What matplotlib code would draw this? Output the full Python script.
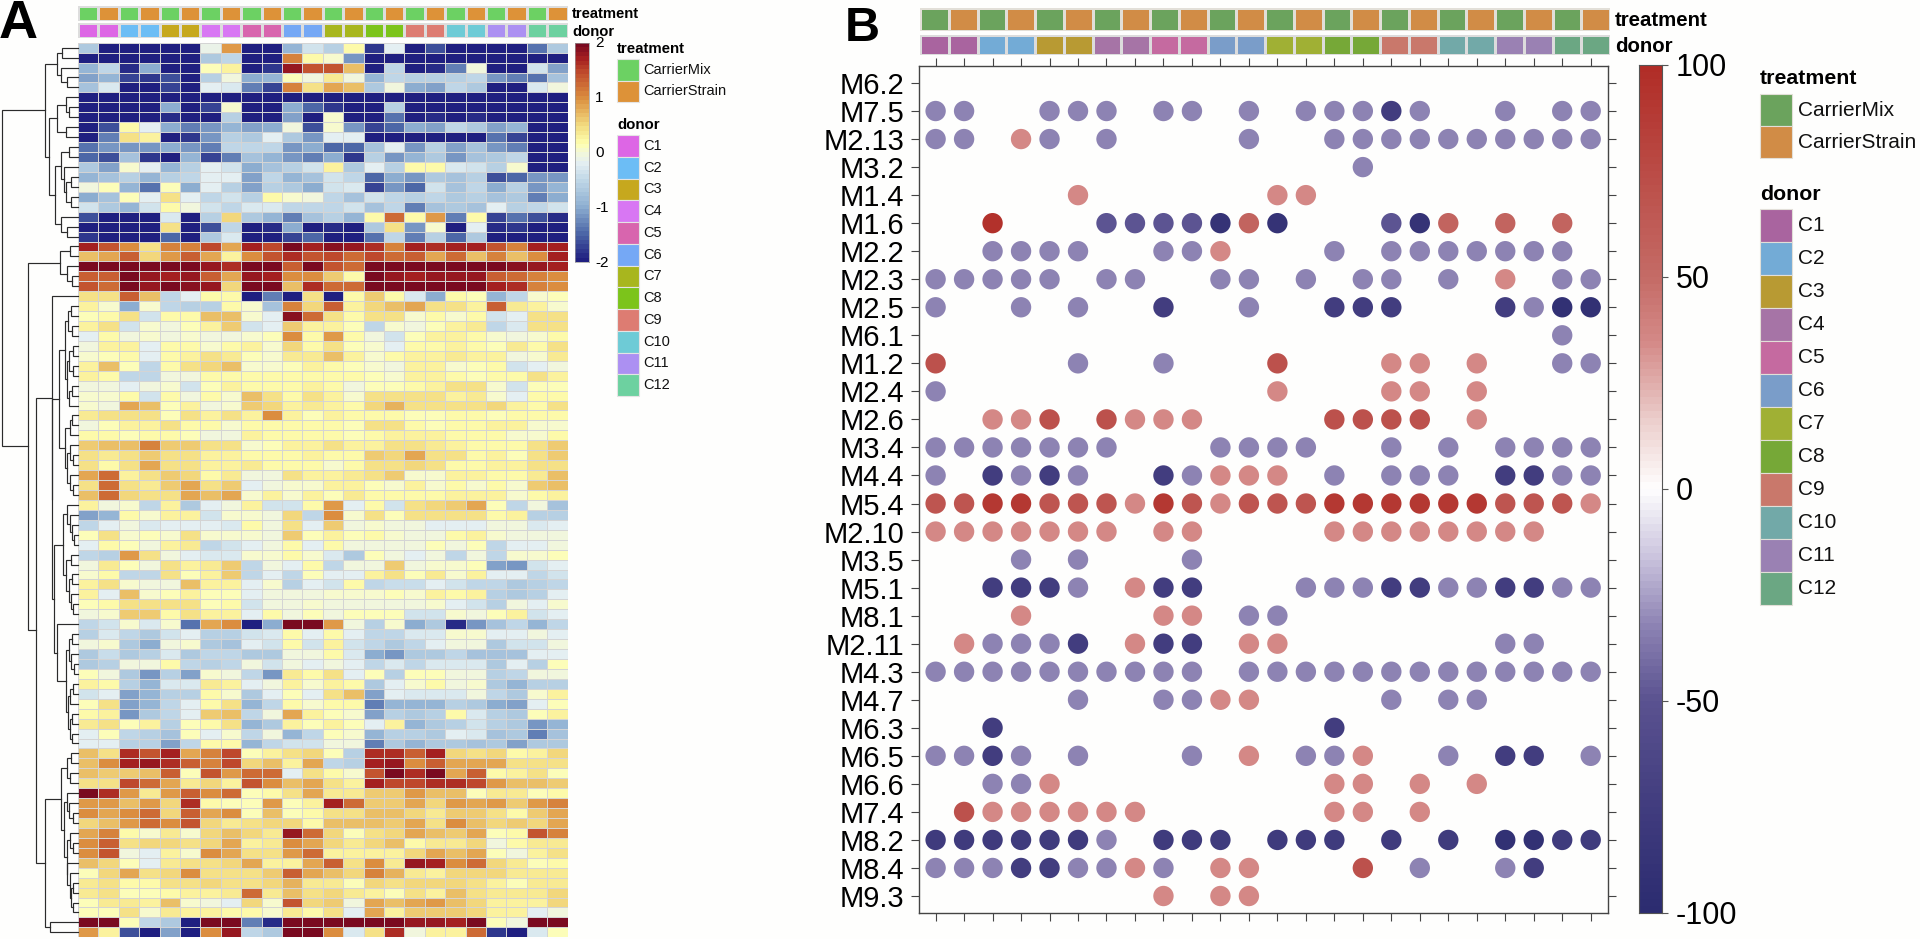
import matplotlib
matplotlib.use("Agg")
import matplotlib.pyplot as plt
import numpy as np
from matplotlib.colors import LinearSegmentedColormap, ListedColormap, Normalize
from matplotlib.patches import Rectangle

plt.rcParams['font.family'] = ['Liberation Sans', 'DejaVu Sans']

W, H = 1920, 939

treatment_names = ["CarrierMix", "CarrierStrain"]
donor_names = ["C1", "C2", "C3", "C4", "C5", "C6", "C7", "C8", "C9", "C10", "C11", "C12"]
sample_treatment = [0, 1] * 12
sample_donor = [d for d in range(12) for _ in (0, 1)]

colors_treat_a = ["#6cd163", "#dd9238"]
colors_donor_a = ["#dd66e5", "#6cbdf5", "#c6a81e", "#d877f3", "#d865ae", "#75a8f5",
                  "#a8b61e", "#7cc41b", "#dd7c72", "#6ecbd6", "#ac90f2", "#6dd1a0"]
colors_treat_b = ["#6ba35d", "#d18c46"]
colors_donor_b = ["#a9649f", "#73abd6", "#b89a33", "#a674a6", "#c56aa0", "#7a9dc9",
                  "#a0b034", "#76a837", "#c9786b", "#72a9a8", "#9a81b3", "#6ba783"]

heat_values = [
 [-.7,-2,-2,-2,-2,-2,-.1,.9,-2,-2,-.9,-.4,-.6,.2,-1.8,-.2,-2,-1.6,-2,-2,-2,-2,-1.4,-.7],
 [-2,-2,-2,-2,-2,-2,-.7,-.5,-2,-2,1.1,.2,.05,-1.2,-2,-2,-2,-2,-2,-2,-2,-2,-2,-2],
 [-.9,-.5,-1.9,-1,-2,-2,.15,.3,-2,-1.8,1.8,1.4,1.4,.7,-2,-.5,-2,-1.9,-1.3,-.05,-2,-2,-.4,-1.1],
 [-1.1,-.9,-1.7,-1.8,-1.6,-2,-.6,-.05,-1,-.9,.15,-.05,.35,-.05,-.9,-.5,-.6,-.6,-.6,-.5,-1.2,-1.3,-1.4,-.8],
 [-.8,-.3,-2,-2,-1.7,-2,-.2,-.3,-1.3,-1.7,1.1,.4,.8,.7,-.7,-.05,-1,-1.1,-.5,-.7,-2,-2,-.3,-.05],
 [-2,-2,-2,-2,-2,-2,-2,-2,-2,-2,-2,-2,-2,-2,-2,-2,-2,-2,-2,-2,-2,-2,-2,-2],
 [-2,-2,-2,-2,-1,-2,-1.7,.05,-2,-2,-1,-1.5,-1.8,-2,-2,-.6,-2,-2,-2,-2,-2,-2,-2,-2],
 [-2,-2,-2,-2,-1.9,-2,-2,-.6,-2,-2,-1.1,-2,.05,-2,-2,-1.4,-2,-1.9,-2,-1.9,-2,-2,-2,-2],
 [-2,-1.6,.2,-.2,-1,-1.3,-1.2,-.9,-1.1,-1,-.05,-1.6,0,-1.2,-1.7,-1.5,-1,-1.1,-.5,-.7,-1.1,-.9,-2,-2],
 [-2,-1.3,.4,.25,-2,-1.8,-1.2,-.6,-.7,-.2,-.7,-1.2,-.2,-.2,-2,-2,-2,-2,-2,-2,-1.4,-1.7,-2,-2],
 [-1.4,-1.2,-1.2,-1.2,-1,-1.2,-1.3,-.5,-.5,-.5,-1.2,-1,-1.5,-1.5,-.8,-.2,-1.2,-.6,-1.1,-.8,-1.2,-1.3,-2,-2],
 [-1.5,-1.6,-.8,-1.8,-2,-.9,-1.7,-1.3,-.8,-.9,-1.2,-1.3,-1,-1.8,-.6,-1.2,-.9,-.7,-1.2,-.8,-.7,-.5,-2,-2],
 [-.7,-1.1,0,-.2,-.9,-.6,-.2,-.4,-1,-.8,-.6,-.4,.3,-.7,-.2,-.6,.2,.2,-.3,-.4,-.6,0,-2,-2],
 [-.9,-.8,-.6,-.9,-.6,-.5,-.2,-.2,-1.1,-.5,-.9,-.8,-.4,-.5,-1.5,-1,-1.2,-.7,-.8,-.6,-1.6,-1.5,-1.2,-1.2],
 [-.05,.1,-.9,-1.4,.15,-1,-.2,-.6,-1.1,-.6,-.7,-1,-.4,-.3,-1.7,-1.2,-1.5,-.4,-.8,-.5,-1,-.6,-1.2,-.9],
 [-1,-.8,.1,-.2,.4,-.2,-.5,-.4,-.6,.2,0,-.05,-.5,-.8,-.4,-.5,-.6,-.5,-.7,-.6,-.8,-.7,-1.3,-1],
 [-.4,-.7,-.9,-.4,.2,-.05,-.4,-.5,-.3,-.3,-.5,-.5,-.5,-.4,-.8,-.5,-1.3,-.8,-.7,-.8,-.2,-.6,-.5,-.4],
 [-1.6,-2,-2,-2,-.3,-2,-.6,.5,-.7,-.9,-1.3,-.8,-.6,-.9,.2,1.2,.2,.9,-1.3,.2,-1.7,-1.4,-1.6,-1.9],
 [-2,-2,-2,-2,.4,-2,-1.6,-.5,-2,-1.9,-1,-2,-1.9,-2,-.7,.4,-1.2,0,-2,-.2,-1.9,-1.8,-2,-2],
 [-1.8,-2,-2,-2,-1.5,-2,-.7,-.3,-2,-2,-1.7,-1.5,-2,-2,-1.4,-.5,-1.3,-.6,-1.5,-.7,-2,-2,-2,-2],
 [1.7,1.4,1,.4,1.1,1.1,1.5,.8,1.75,1.5,2,1.7,1.85,1.8,1.6,1.1,1.7,1.6,1.75,1.7,1.4,1.1,1.75,1.75],
 [.7,.8,1.3,.5,.9,1.3,.8,.3,1,1.4,1.6,1.4,1.5,1.2,1.5,1.2,1.3,.8,1.2,.7,1.1,.7,1,1.7],
 [2,2,2,2,2,2,1.8,1.6,2,2,1.3,2,1.4,1.2,2,2,2,2,2,2,2,1.9,1.8,1.7],
 [1.3,1.3,2,1.8,1.7,1.8,1.3,.8,1.8,1.7,1,1,.6,.2,2,1.8,1.7,1.8,1.8,1.8,1.3,1.2,1.1,1],
 [1.4,1.2,2,1.8,2,1.9,1.8,.5,2,2,.7,1.6,1.2,1.2,2,2,2,2,2,2,1.7,1.6,1.1,1],
 [.4,.4,1.3,.7,-.5,-.2,.2,.2,-2,-1.3,-2,.4,-2,.2,.6,.2,-.3,-1,.2,.1,-.9,-.5,0,.15],
 [.3,0,-1,0,-.5,-.6,-.6,.2,0,-.8,1.1,.5,1.3,.3,.5,.7,.8,.4,.4,.3,1.3,.35,.3,.05],
 [.1,.2,.4,-.4,.2,.2,.7,.7,.05,-.2,1.9,1.2,.4,.2,.4,.4,0,.2,0,.2,-.4,-.2,.4,.4],
 [.25,.45,-.35,0,-.05,.1,.3,.6,-.35,-.2,.6,.3,.3,.1,-.5,0,-.05,.1,.3,.35,-.5,-.3,.4,.4],
 [-.2,.2,-.05,0,-.05,.05,-.05,-.05,0,.1,1,.2,.9,.2,-.05,-.4,.1,.25,.25,.2,.05,-.05,.05,.2],
 [-.05,.25,.25,-.2,.2,.2,.05,.2,.25,0,.5,.2,.4,.15,.05,-.2,.2,.2,.3,.2,.15,.35,.2,.4],
 [0,.1,.2,-.2,.2,.25,.4,.35,.1,.05,.35,.35,.7,.3,0,.2,.3,.25,.35,.3,.25,-.05,.05,.35],
 [.3,.7,.1,-.5,.2,.4,.55,.7,0,0,.15,.3,.2,.1,.05,-.05,.25,.3,.05,.1,.2,-.4,-.2,-.05],
 [.25,.2,-.5,-.5,-.05,-.05,.2,.2,.2,.2,.2,.2,.2,.2,.1,.05,.25,.3,.2,.1,.2,.2,.45,.3],
 [-.05,-.05,-.2,-.05,.05,-.4,.1,.25,.2,.2,.2,.25,.2,-.05,.1,.1,.2,.25,.4,.4,0,-.4,.1,.15],
 [0,.05,.2,-.4,.2,-.05,.2,.05,.7,.4,.2,.4,.3,0,.4,.4,.4,.4,.3,.35,.05,-.2,.2,.2],
 [0,-.05,.8,.7,.1,.3,-.05,0,.6,.5,.3,.35,.25,.2,.5,.75,.4,.4,.4,.45,.5,.3,.2,.45],
 [.35,.4,.4,.45,.1,.4,.3,.45,.25,1,.3,.1,.3,.2,.2,.2,.1,.1,.2,.2,.1,.2,.2,.2],
 [-.05,.1,.3,.3,.4,.2,.2,0,.2,.2,.2,.2,.2,.1,.4,.4,.2,.1,.2,.2,.3,.3,0,.05],
 [.2,.2,.1,.2,.2,.1,-.05,-.05,.25,.2,.2,.2,.2,.1,.2,.3,.3,.3,.2,.2,.2,0,0,.2],
 [.6,.7,.7,1.1,.6,.6,.4,.4,0,.1,.3,.3,.4,.3,.3,.45,.4,.35,.3,.2,.2,.2,.45,.6],
 [.4,.35,.45,.6,.4,.4,.3,.3,.2,.2,.2,.3,.2,.2,.6,.5,.85,.45,.45,.2,.3,.1,.4,.6],
 [.4,.2,.45,.8,.45,.45,.25,.25,.35,.2,.2,.2,0,.2,.45,.45,.5,.4,.2,.2,.3,.3,.4,.45],
 [.8,1.2,.25,.4,.6,.5,.2,.35,-.05,-.05,.4,.3,.3,.35,.4,.6,.05,0,.3,.3,.2,.2,.35,.7],
 [.4,1.2,.4,.35,.6,.8,.45,.6,-.2,-.05,0,.05,.3,.3,.1,0,.25,0,.2,0,.2,.05,.6,.7],
 [.7,1.2,.5,.45,.45,.8,.7,.8,0,.25,0,.25,.15,.35,.2,.2,.2,.2,.3,.3,.25,0,.2,.3],
 [.3,-.05,0,-.5,.3,-.7,-.2,-.05,.3,-.4,-.4,.2,.9,-.2,.2,-.4,.4,.5,.6,.8,.1,-.5,-.05,-.8],
 [-1.1,-.9,.2,0,.25,.25,-.4,0,0,-.05,.5,-.5,1,.05,.4,.1,.4,.45,.45,.4,.2,.3,-.6,-.6],
 [-.5,-.2,-.05,-.3,-.2,-.2,-.2,-.3,.2,-.05,.45,-.2,.6,-.05,.05,-.05,-.05,-.2,-.2,-.2,-.05,-.05,-.3,-.2],
 [.1,.4,0,.1,.05,.4,0,0,0,-.05,.6,.1,.25,.1,.2,0,-.05,-.05,.2,.3,0,-.05,-.05,-.05],
 [-.2,.2,.1,-.05,.3,.35,-.5,-.35,-.2,-.05,.2,-.2,.2,-.05,-.05,-.05,-.05,.15,-.05,.1,-.5,-.2,-.2,-.05],
 [-.5,-.6,.9,.4,-.05,-.2,-.3,-.3,.05,.05,.2,0,-.3,-.7,.1,-.05,-.2,-.05,-.5,-.05,-.5,0,.05,.1],
 [-.05,.35,.1,-.05,.45,.25,.35,.6,-.5,-.05,-.2,.2,-.5,-.05,-.05,.6,-.05,0,0,.1,-1.1,-1.2,-.4,-.2],
 [0,.2,-.5,-.5,.45,.1,.3,.6,-.5,-.2,-.5,.1,-.2,-.2,.25,.45,.1,.35,0,.25,-.2,-.2,-.5,-.4],
 [.25,.4,0,-.05,-.05,.7,.25,.3,-.2,0,-.6,-.2,-.4,.2,-.5,-.45,-.45,-.2,-.4,-.5,-.5,-.7,-.6,-.5],
 [.25,-.2,.65,0,.15,.25,.15,.1,-.2,-.05,-.05,-.05,.05,0,.05,.15,0,.25,.2,.25,-.6,-.7,-.6,-.2],
 [.1,.2,.45,.45,.4,.4,.1,.2,-.4,-.05,-.05,0,-.05,-.05,-.05,-.05,-.05,.05,-.2,-.4,-.6,-.05,-.2,.05],
 [-.05,0,.6,.6,.2,.4,.3,.3,-.2,.2,-.05,.1,-.05,.1,.1,.15,-.4,-.4,.05,-.05,.1,.3,-.4,-.2],
 [-.5,-.35,.05,-.3,.05,-1.4,.8,1,-2,-1,2,2,.9,-.05,-.6,.05,-1,-.7,-1.9,-1.2,-.8,-.5,-.9,-.5],
 [-.6,-.3,-.5,-.7,-.4,-.2,-.6,-.6,-.4,-.3,.2,-.2,.2,-.2,-.5,-.5,-.3,-.3,.05,0,-.2,-.2,-.05,-.2],
 [-.05,0,-.7,-1,-.05,.05,-.7,-.8,-.2,-.4,.2,-.4,.3,-.4,-.5,-.7,-.5,-.2,-.05,-.05,-.7,-.4,-.4,-.05],
 [-.7,-.45,-.7,-.6,-.3,-.7,-.5,-.5,-.7,-.7,-.05,-.05,.2,-.3,-1,-1.2,-.7,-.7,-.5,-.8,-.8,-.8,-.2,-.2],
 [-.7,-.6,-.05,-.05,.2,-.5,-.6,-.5,-.05,-.4,-.05,-.2,-.05,-.2,-.5,-.3,-.5,-.3,-.3,-.3,-.7,-.2,-.6,.1],
 [.1,-.05,-.7,-1.2,-.6,-1.1,0,-.05,-.5,-1.2,.35,.2,.4,-.2,.1,-.6,.1,.1,-.05,-.05,-.6,-.5,-.05,-.05],
 [.3,.2,-.6,-.9,-.3,-.3,.35,.3,-.2,-.05,.25,.05,.3,.2,-.7,-.2,0,.2,-.05,.05,-.7,-.9,-.6,-.6],
 [-.4,-.2,-1.1,-.9,-.6,-.6,.2,0,-.7,-.2,.1,-.2,.4,.7,-1.1,-.2,-.3,-.3,-.3,-.05,-.5,-.7,0,.3],
 [.1,.4,-1.1,-.9,-.5,-.2,.2,.4,-.9,-.5,.2,0,.2,.2,-1.3,-.9,-.9,-.9,-.6,-.7,-1,-1.1,-.2,.1],
 [.2,.3,-1.2,-.7,-.5,-.2,.6,.7,-.5,-.05,.8,.25,.1,.05,-1.1,-.6,-.7,-.6,.2,-.3,-.6,-.7,.1,.25],
 [.35,.4,.1,.25,-.6,.1,.2,.45,-.9,-.7,.25,.1,.25,.15,-.2,.25,-.9,-.7,-.6,-.4,-.6,-.7,-1.2,-.9],
 [-.2,.1,-.5,-.6,-.8,.1,-.2,0,-.5,-.05,-.9,-.5,.1,0,-.9,-.6,-.6,-.7,-.2,-.3,-.8,-.7,-1.3,-.8],
 [-.2,-.2,-.6,-.6,-1.1,-.5,.2,.2,-.9,-.5,-.4,-.4,-.05,-.05,-1.3,-.7,-.9,-.7,-.7,-.8,-.7,-1.1,-.7,-.7],
 [.7,.4,1.6,1.4,1.7,.8,1.1,1.5,.15,.3,.4,.5,.1,-.6,1.6,1.6,1.3,1.7,.5,.4,.5,.2,.3,.5],
 [.7,1,1.7,1.8,1.6,1.3,1.1,1.5,.5,.7,.3,.8,-.5,-.6,1.7,1.8,1,1.3,.8,.8,.8,.4,.4,.4],
 [.7,.6,.6,.7,1.3,.1,1.4,.9,1.2,1.2,-.2,.4,.2,0,1.4,2,1.6,2,.8,1.3,.2,.3,.4,.15],
 [.4,.4,1.5,1.2,.8,.35,.5,.3,1.4,1,.7,.8,.4,.3,1.7,1.5,1.5,1.6,1.6,1.5,.9,.7,.7,.6],
 [2,1.6,.9,.35,.9,1.3,1,1.2,.15,.2,.4,.8,.35,.35,.6,.6,.9,.7,.7,.15,.35,.35,.15,.2],
 [.9,.9,.7,.9,.5,1.6,.2,.15,.15,.9,.15,.3,1.7,1.2,.6,.6,.8,.5,.9,.8,.9,.6,.9,1.1],
 [1,.8,1,1.2,.5,1.3,.8,1,.15,.7,.15,.2,.4,.4,.65,.7,.5,.35,.6,.6,.4,.2,.6,.8],
 [.5,.7,.9,1.2,1,1.4,.55,.35,.4,.5,.5,.2,.7,.7,.7,.6,.8,.4,1,.65,.5,.6,.5,.8],
 [.8,1.1,.2,0,.35,.05,.55,.7,.5,.35,1.8,1.2,.5,.1,.4,.55,.8,.7,.6,.8,.15,.2,1.4,1.1],
 [1,1.3,.4,.5,.5,.4,.5,.8,.3,.35,1,.85,.5,.35,.5,.7,.2,.35,.35,.5,-.05,.2,.35,.35],
 [1,1.4,-.05,-.2,.3,.05,1,.8,.4,.4,.9,1.2,.25,.3,.3,.3,.5,.85,.7,.8,.1,-.05,.3,.4],
 [.65,.5,.15,-.2,.35,.4,.4,.5,.85,.25,.3,.8,1.3,.4,1,.35,1.8,1.7,1,1.2,.5,.35,.15,.2],
 [.15,.55,.8,.4,.5,1,.4,.4,.4,.6,1.3,.85,.7,.5,1.05,.75,.35,.25,.5,.5,.55,.35,.35,.35],
 [.35,.4,.2,.2,.4,.4,.55,.45,.4,.5,.75,.35,.35,.15,.5,.4,.5,.5,.5,.4,.25,.15,.35,.35],
 [.35,.45,.15,.1,.2,.25,.3,.35,1.2,.35,.7,.4,.5,.35,.3,.15,.4,.3,.7,.4,.35,.35,.35,.5],
 [.15,.35,.35,.25,.65,.05,-.05,-.2,.55,0,1.4,.5,.6,-.05,.85,.65,.85,.9,.7,.5,.3,.25,.3,.5],
 [.15,.15,.4,0,.35,.25,.25,.2,.2,.05,.35,.2,.4,-.2,.8,.3,.6,.6,.6,.5,.25,.25,-.2,-.05],
 [2,2,.15,-.5,-.7,-2,2,2,-1.3,-1.9,2,2,2,2,2,2,1.8,1.8,1.7,2,.1,-.05,2,2],
 [.9,.3,-1.6,-2,-1.1,-2,1,1.8,-.5,-.7,2,2,1,-.3,.4,1.6,-.05,.3,.3,1.2,-1.8,-2,-.3,.1],
]

# Dendrogram merges: (height, left, right); 0 stands for the next leaf row.
t_top = (86,
         (54, (42, 0, 0), (44, 0, (29, 0, 0))),
         (77,
          (54, (32, 0, (24, 0, 0)), (32, 0, 0)),
          (61,
           (44, (24, 0, 0), (36, 0, (32, (19, 0, 0), (19, 0, 0)))),
           (44, 0, (29, 0, 0)))))
t_red = (46, (21, 0, 0), (29, 0, (17, 0, 0)))
t_f1 = (34, (26, (18, 0, 0), (16, 0, 0)),
        (28, (24, (14, 0, 0), (14, 0, 0)), (24, (16, 0, 0), 0)))
t_f2 = (33, (22, (15, 0, 0), 0),
        (28, (20, 0, (12, 0, 0)), (20, 0, (12, 0, 0))))
t_g = (39, (28, 0, (22, 0, (16, 0, (10, 0, 0)))),
       (32, (18, 0, 0), (24, (16, 0, 0), (18, 0, (12, 0, 0)))))
t_h = (32, (24, (16, 0, 0), (18, 0, (10, 0, 0))),
       (26, (20, (14, 0, 0), 0), (22, (16, 0, 0), (16, 0, 0))))
t_mid = (69, 0, (67, (49, t_f1, t_f2), (64, t_g, (56, 0, t_h))))
t_l = (44, (29, (18, 0, 0), (22, 0, 0)),
       (36, (30, 0, (24, 0, (14, 0, 0))),
        (30, (20, 0, (12, 0, 0)), (28, 0, (22, 0, (18, (12, 0, 0), (14, 0, 0)))))))
t_low = (86, t_l, (72, 0, 0))
dendro_tree = (200, t_top, (132, t_red, (109, t_mid, t_low)))

bubble_modules = ["M6.2", "M7.5", "M2.13", "M3.2", "M1.4", "M1.6", "M2.2", "M2.3", "M2.5", "M6.1",
                  "M1.2", "M2.4", "M2.6", "M3.4", "M4.4", "M5.4", "M2.10", "M3.5", "M5.1", "M8.1",
                  "M2.11", "M4.3", "M4.7", "M6.3", "M6.5", "M6.6", "M7.4", "M8.2", "M8.4", "M9.3"]
# module -> {percent value: [sample columns, 1-based]}
bubble_values = {
 "M6.2": {},
 "M7.5": {-32: [1,2,5,6,7,9,10,12,14,15,16,18,21,23,24], -75: [17]},
 "M2.13": {-32: [1,2,5,7,12,15,16,17,18,19,20,21,22,23,24], 35: [4]},
 "M3.2": {-32: [16]},
 "M1.4": {35: [6,13,14]},
 "M1.6": {95: [3], -50: [7,8,9,10,17], -90: [11,13,18], 55: [12,19,21,23]},
 "M2.2": {-32: [3,4,5,6,9,10,15,17,18,19,20,21,22,23], 35: [11]},
 "M2.3": {-32: [1,2,3,4,5,7,8,11,12,14,16,17,19,23,24], 35: [21]},
 "M2.5": {-32: [1,4,6,12,22], -75: [9,15,16,17,21], -92: [23,24]},
 "M6.1": {-32: [23]},
 "M1.2": {70: [1,13], -32: [6,9,23,24], 35: [17,18,20]},
 "M2.4": {-32: [1], 35: [13,17,18,20]},
 "M2.6": {35: [3,4,8,9,10,20], 70: [5,7,15,16,17,18]},
 "M3.4": {-32: [1,2,3,4,5,6,7,11,12,13,14,17,19,21,22,23,24]},
 "M4.4": {-32: [1,4,6,10,15,17,18,19,23,24], -75: [3,5,9,21,22], 35: [11,12,13]},
 "M5.4": {68: [1,2,5,6,7,10,12,13,14,21,22,23], 90: [3,4,9,15,16,17,18,19,20], 35: [8,11,24]},
 "M2.10": {35: [1,2,3,4,5,6,7,9,10,15,16,17,18,19,20,21,22]},
 "M3.5": {-32: [4,6,10]},
 "M5.1": {-75: [3,4,5,9,10,17,18,21,22], -32: [6,14,15,16,19,20,23,24], 35: [8]},
 "M8.1": {35: [4,9,10], -32: [12,13]},
 "M2.11": {35: [2,8,12,13], -32: [3,4,5,21,22], -75: [6,9,10]},
 "M4.3": {-32: [1,2,3,4,5,6,7,8,9,10,12,13,14,15,16,17,18,19,20,21,22,23,24]},
 "M4.7": {-32: [6,9,10,17,19,20], 35: [11,12]},
 "M6.3": {-75: [3,15]},
 "M6.5": {-32: [1,2,4,6,10,14,15,19,24], -75: [3,21,22], 35: [12,16]},
 "M6.6": {-32: [3,4], 35: [5,15,16,18,20]},
 "M7.4": {70: [2], 35: [3,4,5,6,7,8,15,16,18]},
 "M8.2": {-78: [1,2,3,4,5,6,9,10,11,13,14,15,17,19,23,24], -32: [7], -92: [21,22]},
 "M8.4": {-32: [1,2,3,6,7,9,18,21], -75: [4,5,22], 35: [8,11,12], 70: [16]},
 "M9.3": {35: [9,11,12]},
}

heat_cmap = LinearSegmentedColormap.from_list("heat", [
    (0.0, "#1f1f80"), (0.125, "#4d68a8"), (0.25, "#8fb0d2"), (0.375, "#c2d9e8"),
    (0.45, "#e4eff2"), (0.5, "#f4f8d8"), (0.54, "#ffffb0"), (0.625, "#f3dc80"),
    (0.75, "#dc9040"), (0.875, "#bf4a2c"), (0.9375, "#a52020"), (1.0, "#7a0a20")], N=50)
bubble_cmap = LinearSegmentedColormap.from_list("bubble", [
    (0.0, "#2c2c70"), (0.125, "#423d7f"), (0.25, "#5b5391"), (0.34, "#8f85b5"),
    (0.42, "#cbc4de"), (0.5, "#ffffff"), (0.58, "#eccfcd"), (0.675, "#d58a88"),
    (0.75, "#c56c67"), (1.0, "#b12d27")], N=120)


def px_axes(x0, y0, x1, y1, **kw):
    return fig.add_axes([x0 / W, 1 - y1 / H, (x1 - x0) / W, (y1 - y0) / H], **kw)


fig = plt.figure(figsize=(W / 100, H / 100), dpi=100, facecolor="#fefefd")
over = px_axes(0, 0, W, H)
over.set_xlim(0, W)
over.set_ylim(H, 0)
over.axis("off")
over.set_zorder(5)


def strip(rect, idx, colors, edge):
    ax = px_axes(*rect)
    ax.pcolormesh(np.array([idx]), cmap=ListedColormap(colors), vmin=-0.5,
                  vmax=len(colors) - 0.5, edgecolors=edge, linewidth=0.9)
    ax.axis("off")


# Panel A
heat = np.array(heat_values)
strip((78, 6, 567.5, 20.7), sample_treatment, colors_treat_a, "#dddddd")
strip((78, 22.7, 567.5, 38), sample_donor, colors_donor_a, "#dddddd")
ax_h = px_axes(78, 42.7, 567.5, 937.3)
ax_h.pcolormesh(heat, cmap=heat_cmap, vmin=-2, vmax=2, edgecolors="#d4d4d4", linewidth=0.45)
ax_h.set_ylim(len(heat), 0)
ax_h.axis("off")

ax_d = px_axes(0, 42.7, 78, 937.3)
ax_d.set_xlim(204, 0)
ax_d.set_ylim(len(heat), 0)
ax_d.axis("off")
leaf_counter = [0]


def draw_tree(node):
    if node == 0:
        y = leaf_counter[0] + 0.5
        leaf_counter[0] += 1
        return 0, y
    h, a, b = node
    ha, ya = draw_tree(a)
    hb, yb = draw_tree(b)
    ax_d.plot([ha, h, h, hb], [ya, ya, yb, yb], color="#2b2b2b", lw=0.85,
              solid_joinstyle="miter", clip_on=False)
    return h, (ya + yb) / 2


draw_tree(dendro_tree)

ax_c = px_axes(575, 43, 589, 262)
ax_c.imshow(np.linspace(2, -2, 50)[:, None], aspect="auto", cmap=heat_cmap, vmin=-2, vmax=2,
            extent=(0, 1, -2, 2))
ax_c.set_xticks([])
ax_c.set_yticks([])
for s in ax_c.spines.values():
    s.set_linewidth(0.5)
    s.set_color("#999999")

over.text(-1, 38, "A", fontsize=39, fontweight="bold", ha="left", va="baseline")
over.text(572, 14, "treatment", fontsize=10.6, fontweight="bold", va="center")
over.text(572, 32, "donor", fontsize=10.6, fontweight="bold", va="center")
for lab, yy in zip(["2", "1", "0", "-1", "-2"], [43, 98, 153, 208, 263]):
    over.text(595, yy, lab, fontsize=11, va="center")


def legend(x, y_t, y_d, y0_t, y0_d, sw, st, sd, lx, fs, tfs, edge):
    over.text(x, y_t, "treatment", fontsize=tfs, fontweight="bold", va="center")
    for i, nm in enumerate(treatment_names):
        over.add_patch(Rectangle((x, y0_t + i * st), sw, st, fc=colors_t[i], ec=edge, lw=0.8))
        over.text(lx, y0_t + (i + .5) * st, nm, fontsize=fs, va="center", color="#111111")
    over.text(x, y_d, "donor", fontsize=tfs, fontweight="bold", va="center")
    for i, nm in enumerate(donor_names):
        over.add_patch(Rectangle((x, y0_d + i * sd), sw, sd, fc=colors_d[i], ec=edge, lw=0.8))
        over.text(lx, y0_d + (i + .5) * sd, nm, fontsize=fs, va="center", color="#111111")


colors_t, colors_d = colors_treat_a, colors_donor_a
legend(617, 49, 125, 59, 135, 21.5, 21.5, 21.75, 643, 10.5, 10.8, "#e4e4e4")

# Panel B
strip((920, 8, 1610, 31), sample_treatment, colors_treat_b, "#e2dfd8")
strip((920, 35, 1610, 55), sample_donor, colors_donor_b, "#dcdcdc")
ax_b = px_axes(919, 66, 1608, 913, facecolor="#fefefd")
norm = Normalize(-100, 100)
xs, ys, cs = [], [], []
for r, m in enumerate(bubble_modules):
    for v, cols in bubble_values[m].items():
        for c in cols:
            xs.append(c)
            ys.append(r)
            cs.append(v)
ax_b.scatter(xs, ys, c=cs, cmap=bubble_cmap, norm=norm, s=215, linewidths=0, zorder=3)
ax_b.set_xlim(1 - 16.6 / 28.48, 24 + 17.3 / 28.48)
ax_b.set_ylim(29.606, -0.606)
ax_b.set_xticks(range(1, 25))
ax_b.set_xticklabels([])
ax_b.set_yticks(range(len(bubble_modules)))
ax_b.set_yticklabels(bubble_modules, fontsize=21, color="black")
ax_b.tick_params(axis="both", length=5.8, width=0.8, color="#444444", top=True, right=True,
                 bottom=True, left=True, pad=5)
for s in ax_b.spines.values():
    s.set_color("#444444")
    s.set_linewidth(1.0)

ax_cb = px_axes(1639, 65, 1662, 913)
ax_cb.imshow(np.linspace(100, -100, 120)[:, None], aspect="auto", cmap=bubble_cmap, norm=norm,
             extent=(0, 1, -100, 100))
ax_cb.set_xticks([])
ax_cb.yaxis.tick_right()
ax_cb.set_yticks([-100, -50, 0, 50, 100])
ax_cb.set_yticklabels(["-100", "-50", "0", "50", "100"], fontsize=22)
ax_cb.tick_params(axis="y", length=4, width=0.8, color="#555555", pad=6)
for s in ax_cb.spines.values():
    s.set_color("#555555")
    s.set_linewidth(0.8)

over.text(845, 41, "B", fontsize=35, fontweight="bold", ha="left", va="baseline")
over.text(1615, 21, "treatment", fontsize=14.7, fontweight="bold", va="center")
over.text(1615, 47, "donor", fontsize=14.7, fontweight="bold", va="center")
colors_t, colors_d = colors_treat_b, colors_donor_b
legend(1760, 78, 194, 94, 209, 32, 32, 33, 1798, 15, 15.3, "#e2dfd8")

fig.savefig("out.png", dpi=100, facecolor=fig.get_facecolor())
